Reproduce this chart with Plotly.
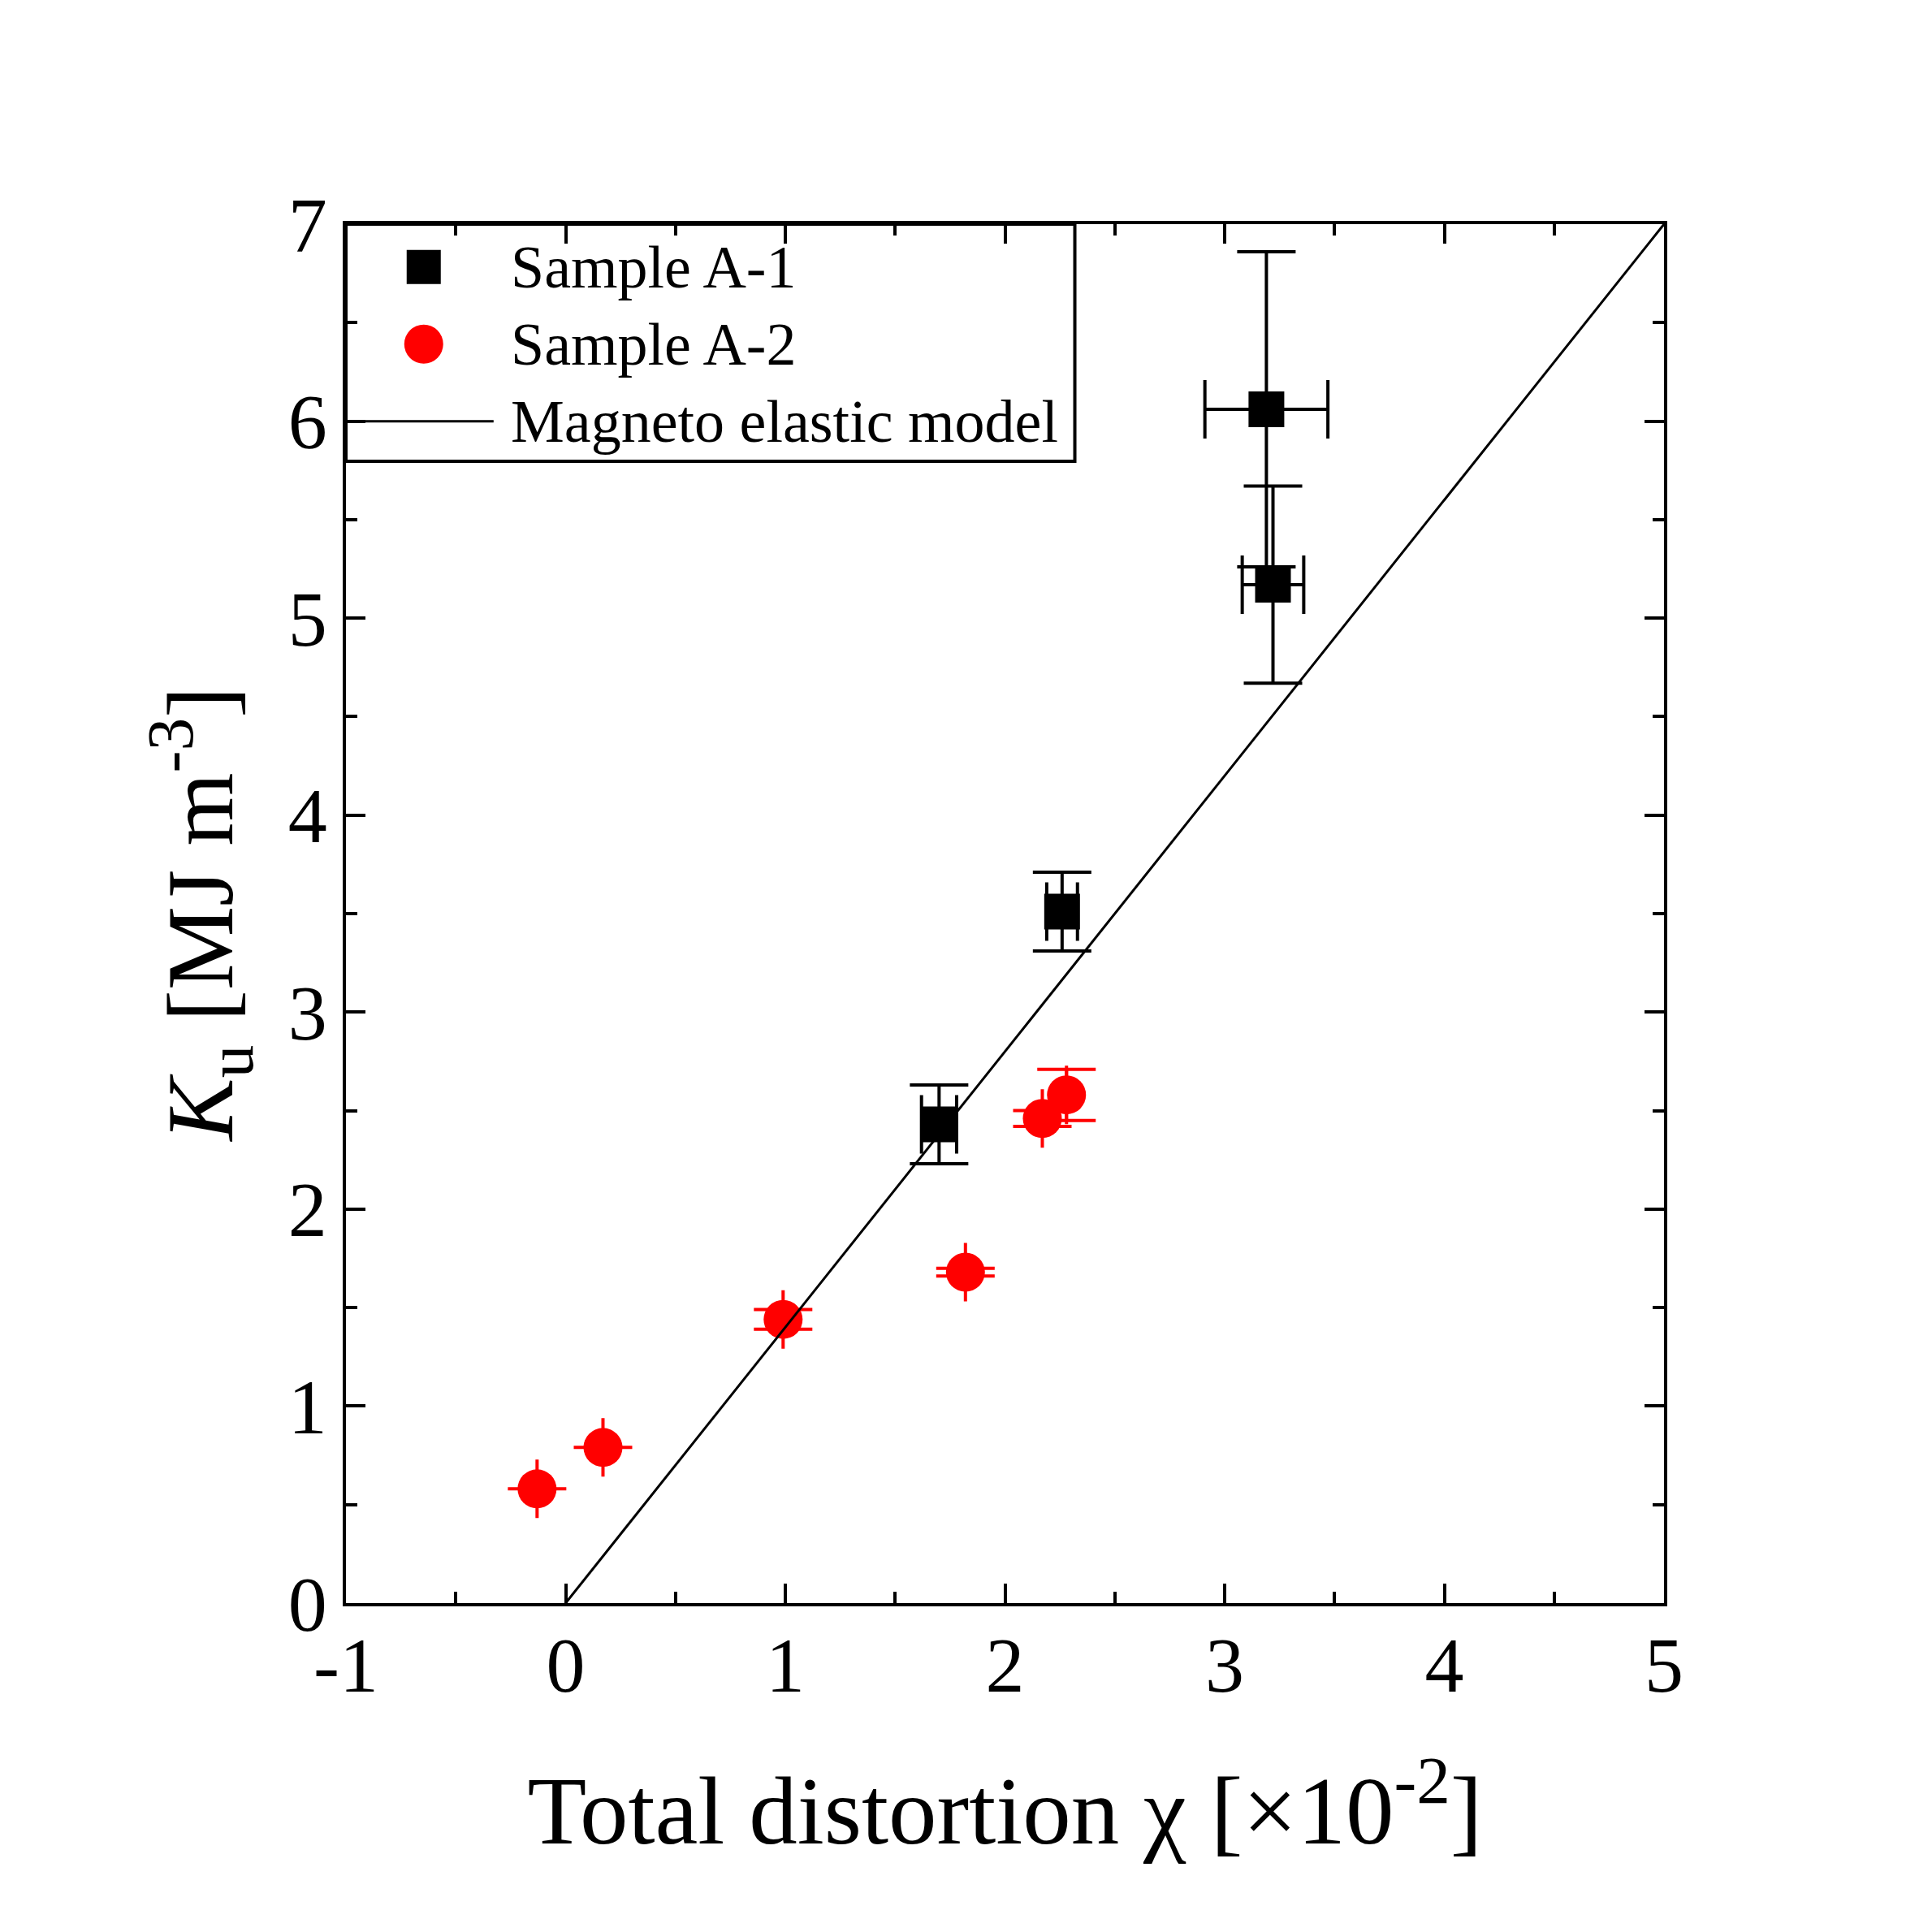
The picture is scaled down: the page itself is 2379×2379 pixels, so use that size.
import plotly.graph_objects as go

# Sample A-1 (black squares)
a1_x = [1.70, 2.26, 3.19, 3.22]
a1_y = [2.43, 3.51, 6.06, 5.17]
a1_xerr = [0.08, 0.07, 0.28, 0.14]
a1_yerr = [0.20, 0.20, 0.80, 0.50]

# Sample A-2 (red circles)
a2_x = [-0.13, 0.17, 0.99, 1.82, 2.17, 2.28]
a2_y = [0.58, 0.79, 1.44, 1.68, 2.46, 2.58]
a2_xerr = [0.0, 0.0, 0.0, 0.0, 0.0, 0.0]
a2_yerr = [0.0, 0.0, 0.05, 0.02, 0.04, 0.13]

# Magneto elastic model line
model_x = [0, 5]
model_y = [0, 7]

x_ticks = [-1, 0, 1, 2, 3, 4, 5]
x_ticktext = ["-1", "0", "1", "2", "3", "4", "5"]
y_ticks = [0, 1, 2, 3, 4, 5, 6, 7]

legend_names = ["Sample A-1", "Sample A-2", "Magneto elastic model"]

FONT = "Liberation Serif, Times New Roman, serif"

fig = go.Figure()

fig.add_trace(go.Scatter(
    x=a2_x, y=a2_y, mode="markers", name=legend_names[1], showlegend=False,
    marker=dict(symbol="circle", size=48, color="red"),
    error_x=dict(type="data", array=a2_xerr, color="red", thickness=4, width=36),
    error_y=dict(type="data", array=a2_yerr, color="red", thickness=4, width=36),
))

fig.add_trace(go.Scatter(
    x=a1_x, y=a1_y, mode="markers", name=legend_names[0], showlegend=False,
    marker=dict(symbol="square", size=44, color="black"),
    error_x=dict(type="data", array=a1_xerr, color="black", thickness=4, width=36),
    error_y=dict(type="data", array=a1_yerr, color="black", thickness=4, width=36),
))

fig.add_trace(go.Scatter(
    x=model_x, y=model_y, mode="lines", name=legend_names[2], showlegend=False,
    line=dict(color="black", width=3),
))

axis_common = dict(
    showline=True, linewidth=4, linecolor="black", mirror="ticks",
    ticks="inside", ticklen=24, tickwidth=4, tickcolor="black",
    showgrid=False, zeroline=False,
    tickfont=dict(family=FONT, size=96, color="black"),
    minor=dict(ticks="inside", ticklen=14, tickwidth=4, tickcolor="black", dtick=0.5, showgrid=False),
)

fig.update_xaxes(
    range=[-1, 5], tickvals=x_ticks, ticktext=x_ticktext, ticklabelstandoff=-10,
    title=dict(text="Total distortion χ [×10<sup>-2</sup>]",
               font=dict(family=FONT, size=119, color="black"), standoff=84),
    **axis_common,
)
fig.update_yaxes(
    range=[0, 7], tickvals=y_ticks,
    title=dict(text="<i>K</i><sub>u</sub> [MJ m<sup>-3</sup>]",
               font=dict(family=FONT, size=116, color="black"), standoff=30),
    **axis_common,
)

# legend box drawn by hand so the symbols can be as large as in the plot
row_y = [0.969, 0.913, 0.857]
sym_x = 0.059
text_x = 0.124
shapes = [
    dict(type="rect", xref="paper", yref="paper", x0=0, x1=0.553, y0=0.828, y1=1,
         line=dict(color="black", width=4), fillcolor="white", layer="below"),
    dict(type="rect", xref="paper", yref="paper", xsizemode="pixel", ysizemode="pixel",
         xanchor=sym_x, yanchor=row_y[0], x0=-21, x1=21, y0=-21, y1=21,
         fillcolor="black", line=dict(width=0)),
    dict(type="circle", xref="paper", yref="paper", xsizemode="pixel", ysizemode="pixel",
         xanchor=sym_x, yanchor=row_y[1], x0=-24, x1=24, y0=-24, y1=24,
         fillcolor="red", line=dict(width=0)),
    dict(type="line", xref="paper", yref="paper", x0=0.0065, x1=0.112,
         y0=row_y[2], y1=row_y[2], line=dict(color="black", width=3)),
]
annotations = [
    dict(text=name, xref="paper", yref="paper", x=text_x, y=yy,
         xanchor="left", yanchor="middle", showarrow=False,
         font=dict(family=FONT, size=74, color="black"))
    for name, yy in zip(legend_names, row_y)
]

fig.update_layout(
    width=2379, height=2379,
    margin=dict(l=418, r=338, t=268, b=413),
    plot_bgcolor="white", paper_bgcolor="white",
    font=dict(family=FONT, color="black"),
    showlegend=False,
    shapes=shapes,
    annotations=annotations,
)

fig.write_html("out.html")
